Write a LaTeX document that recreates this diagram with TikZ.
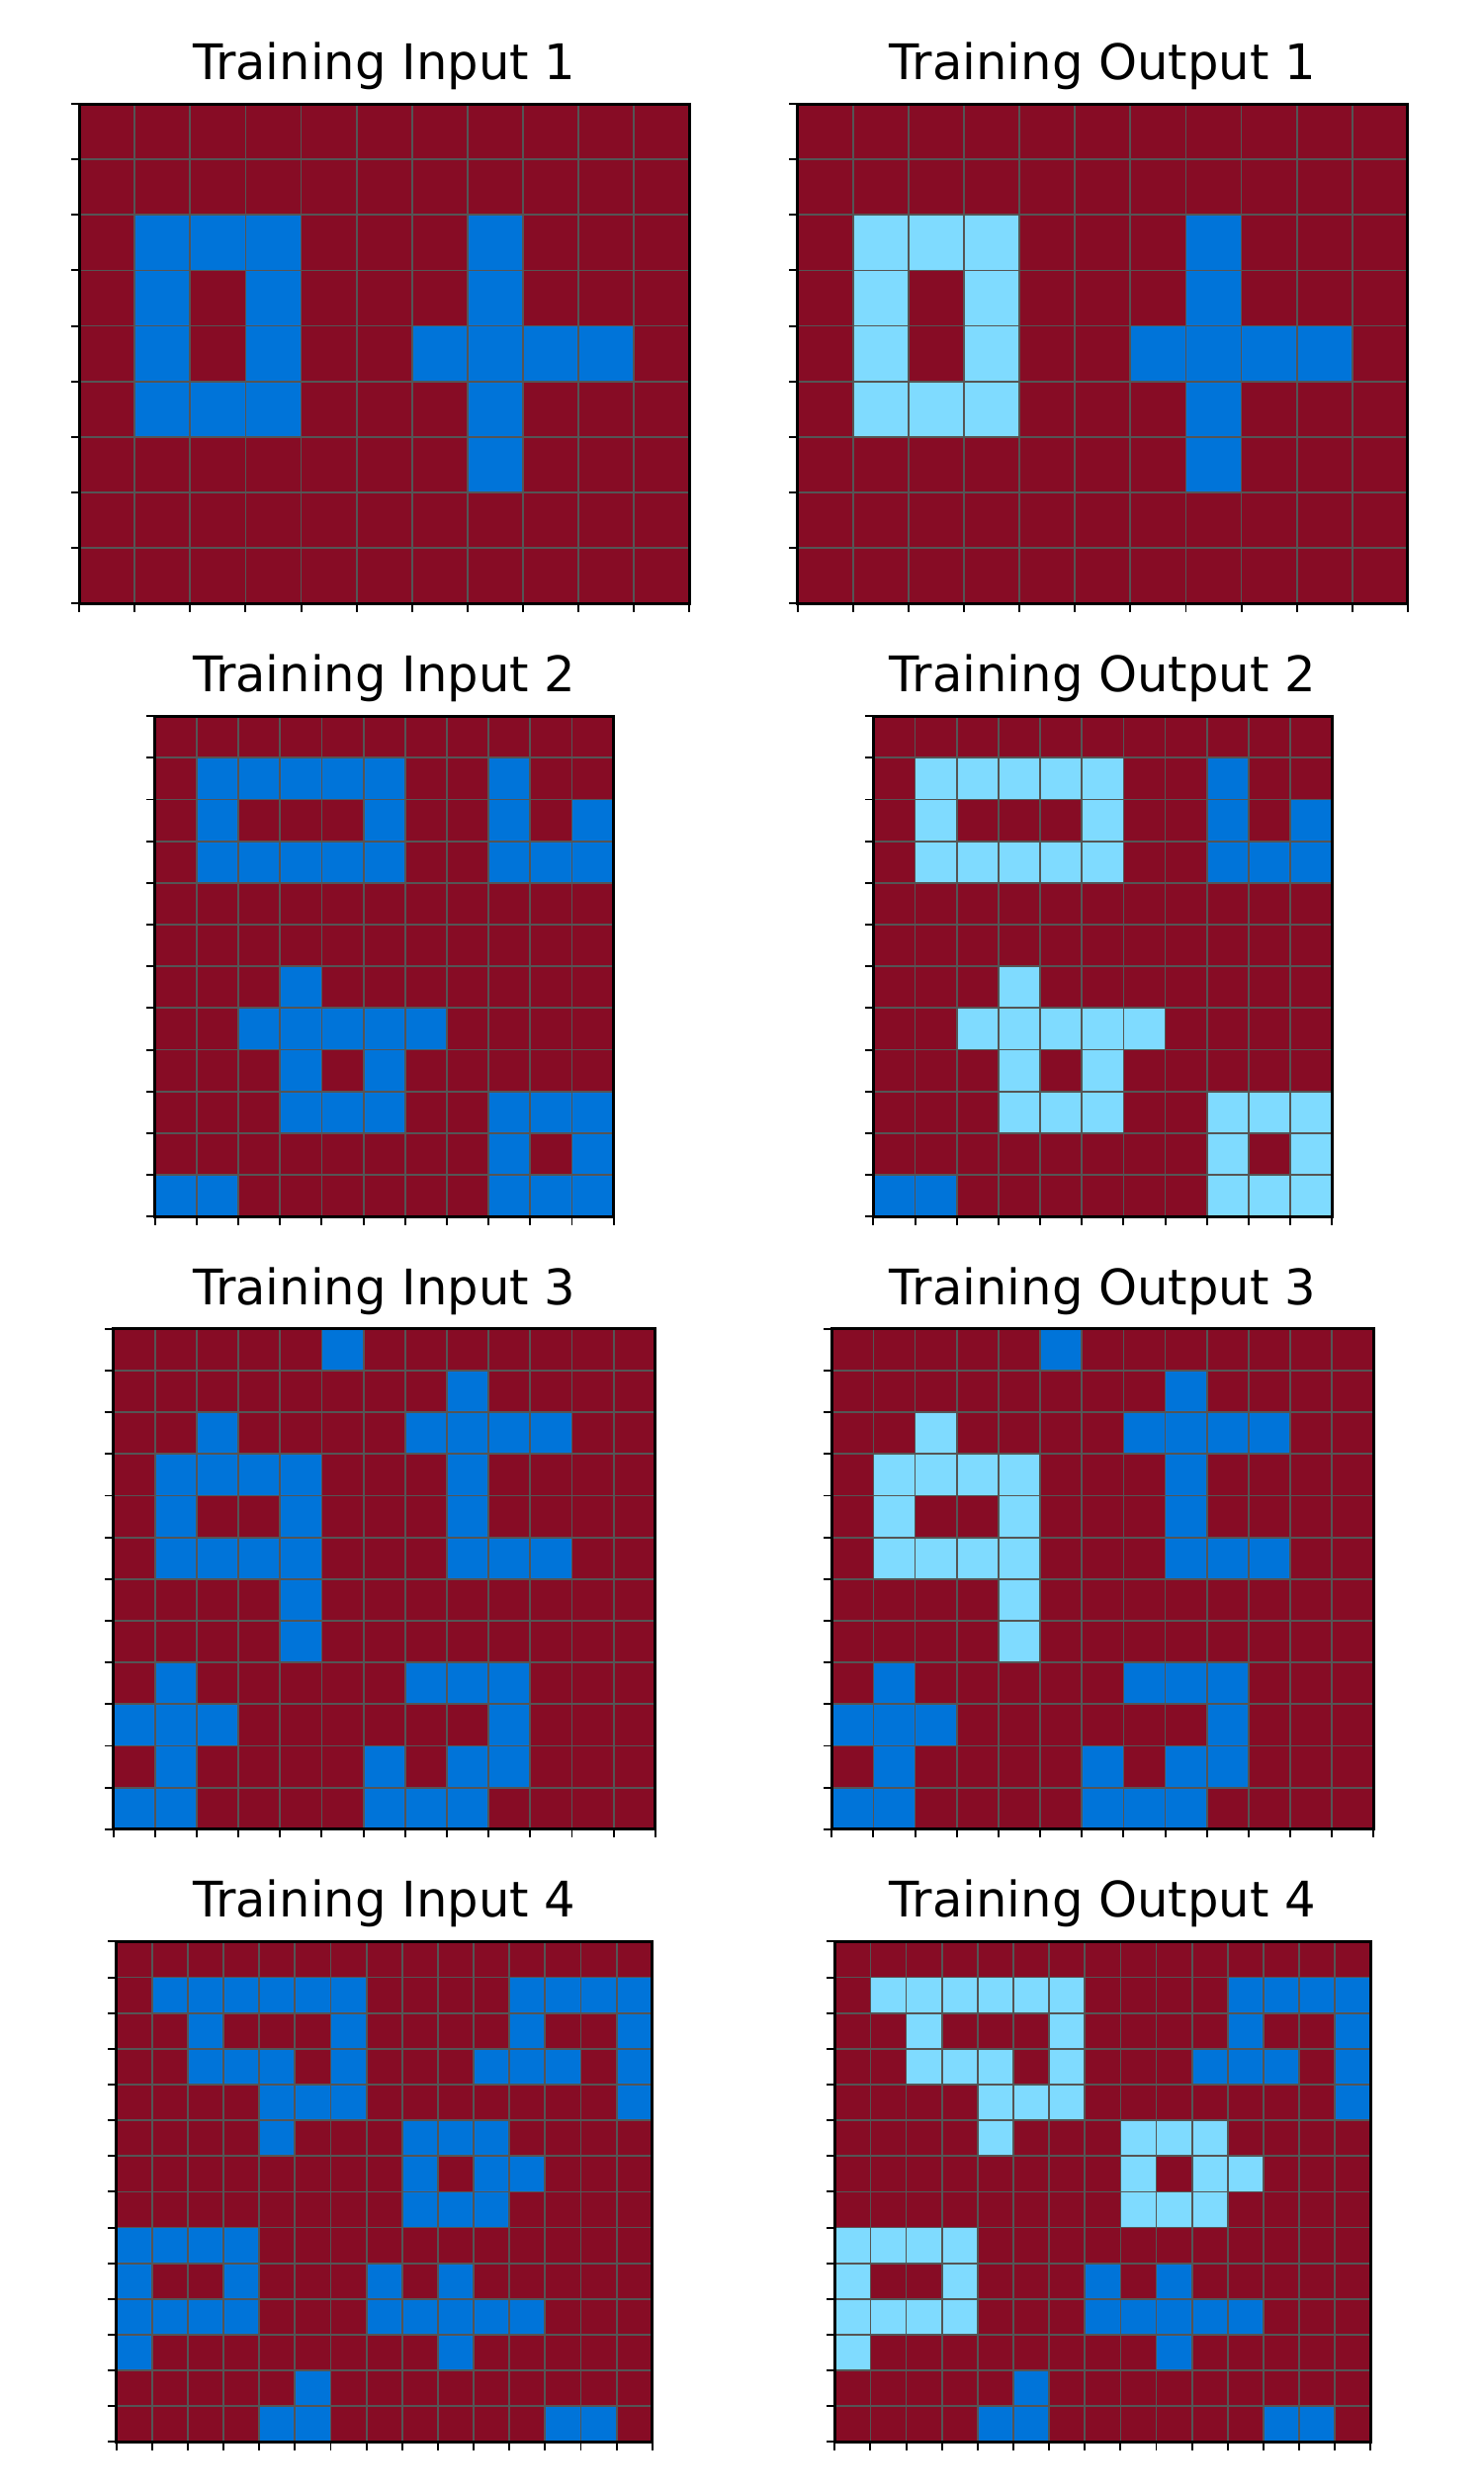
\documentclass[tikz,border=0pt]{standalone}
\usepackage{fontspec}
\setmainfont{DejaVu Sans}

\definecolor{c0}{HTML}{870C25}
\definecolor{c1}{HTML}{0074D9}
\definecolor{c2}{HTML}{7FDBFF}
\definecolor{gridgray}{HTML}{555555}

\tikzset{
	gridline/.style={gridgray, line width=0.5pt},
	spine/.style={black, line width=0.85pt},
	tickmark/.style={black, line width=0.55pt},
	gridtitle/.style={anchor=base, inner sep=0pt, font=\fontsize{14.1}{16}\selectfont}
}

% 0 = maroon, 1 = blue, 2 = light blue
\newcommand{\gridInA}{{0,0,0,0,0,0,0,0,0,0,0},{0,0,0,0,0,0,0,0,0,0,0},{0,1,1,1,0,0,0,1,0,0,0},{0,1,0,1,0,0,0,1,0,0,0},{0,1,0,1,0,0,1,1,1,1,0},{0,1,1,1,0,0,0,1,0,0,0},{0,0,0,0,0,0,0,1,0,0,0},{0,0,0,0,0,0,0,0,0,0,0},{0,0,0,0,0,0,0,0,0,0,0}}
\newcommand{\gridOutA}{{0,0,0,0,0,0,0,0,0,0,0},{0,0,0,0,0,0,0,0,0,0,0},{0,2,2,2,0,0,0,1,0,0,0},{0,2,0,2,0,0,0,1,0,0,0},{0,2,0,2,0,0,1,1,1,1,0},{0,2,2,2,0,0,0,1,0,0,0},{0,0,0,0,0,0,0,1,0,0,0},{0,0,0,0,0,0,0,0,0,0,0},{0,0,0,0,0,0,0,0,0,0,0}}
\newcommand{\gridInB}{{0,0,0,0,0,0,0,0,0,0,0},{0,1,1,1,1,1,0,0,1,0,0},{0,1,0,0,0,1,0,0,1,0,1},{0,1,1,1,1,1,0,0,1,1,1},{0,0,0,0,0,0,0,0,0,0,0},{0,0,0,0,0,0,0,0,0,0,0},{0,0,0,1,0,0,0,0,0,0,0},{0,0,1,1,1,1,1,0,0,0,0},{0,0,0,1,0,1,0,0,0,0,0},{0,0,0,1,1,1,0,0,1,1,1},{0,0,0,0,0,0,0,0,1,0,1},{1,1,0,0,0,0,0,0,1,1,1}}
\newcommand{\gridOutB}{{0,0,0,0,0,0,0,0,0,0,0},{0,2,2,2,2,2,0,0,1,0,0},{0,2,0,0,0,2,0,0,1,0,1},{0,2,2,2,2,2,0,0,1,1,1},{0,0,0,0,0,0,0,0,0,0,0},{0,0,0,0,0,0,0,0,0,0,0},{0,0,0,2,0,0,0,0,0,0,0},{0,0,2,2,2,2,2,0,0,0,0},{0,0,0,2,0,2,0,0,0,0,0},{0,0,0,2,2,2,0,0,2,2,2},{0,0,0,0,0,0,0,0,2,0,2},{1,1,0,0,0,0,0,0,2,2,2}}
\newcommand{\gridInC}{{0,0,0,0,0,1,0,0,0,0,0,0,0},{0,0,0,0,0,0,0,0,1,0,0,0,0},{0,0,1,0,0,0,0,1,1,1,1,0,0},{0,1,1,1,1,0,0,0,1,0,0,0,0},{0,1,0,0,1,0,0,0,1,0,0,0,0},{0,1,1,1,1,0,0,0,1,1,1,0,0},{0,0,0,0,1,0,0,0,0,0,0,0,0},{0,0,0,0,1,0,0,0,0,0,0,0,0},{0,1,0,0,0,0,0,1,1,1,0,0,0},{1,1,1,0,0,0,0,0,0,1,0,0,0},{0,1,0,0,0,0,1,0,1,1,0,0,0},{1,1,0,0,0,0,1,1,1,0,0,0,0}}
\newcommand{\gridOutC}{{0,0,0,0,0,1,0,0,0,0,0,0,0},{0,0,0,0,0,0,0,0,1,0,0,0,0},{0,0,2,0,0,0,0,1,1,1,1,0,0},{0,2,2,2,2,0,0,0,1,0,0,0,0},{0,2,0,0,2,0,0,0,1,0,0,0,0},{0,2,2,2,2,0,0,0,1,1,1,0,0},{0,0,0,0,2,0,0,0,0,0,0,0,0},{0,0,0,0,2,0,0,0,0,0,0,0,0},{0,1,0,0,0,0,0,1,1,1,0,0,0},{1,1,1,0,0,0,0,0,0,1,0,0,0},{0,1,0,0,0,0,1,0,1,1,0,0,0},{1,1,0,0,0,0,1,1,1,0,0,0,0}}
\newcommand{\gridInD}{{0,0,0,0,0,0,0,0,0,0,0,0,0,0,0},{0,1,1,1,1,1,1,0,0,0,0,1,1,1,1},{0,0,1,0,0,0,1,0,0,0,0,1,0,0,1},{0,0,1,1,1,0,1,0,0,0,1,1,1,0,1},{0,0,0,0,1,1,1,0,0,0,0,0,0,0,1},{0,0,0,0,1,0,0,0,1,1,1,0,0,0,0},{0,0,0,0,0,0,0,0,1,0,1,1,0,0,0},{0,0,0,0,0,0,0,0,1,1,1,0,0,0,0},{1,1,1,1,0,0,0,0,0,0,0,0,0,0,0},{1,0,0,1,0,0,0,1,0,1,0,0,0,0,0},{1,1,1,1,0,0,0,1,1,1,1,1,0,0,0},{1,0,0,0,0,0,0,0,0,1,0,0,0,0,0},{0,0,0,0,0,1,0,0,0,0,0,0,0,0,0},{0,0,0,0,1,1,0,0,0,0,0,0,1,1,0}}
\newcommand{\gridOutD}{{0,0,0,0,0,0,0,0,0,0,0,0,0,0,0},{0,2,2,2,2,2,2,0,0,0,0,1,1,1,1},{0,0,2,0,0,0,2,0,0,0,0,1,0,0,1},{0,0,2,2,2,0,2,0,0,0,1,1,1,0,1},{0,0,0,0,2,2,2,0,0,0,0,0,0,0,1},{0,0,0,0,2,0,0,0,2,2,2,0,0,0,0},{0,0,0,0,0,0,0,0,2,0,2,2,0,0,0},{0,0,0,0,0,0,0,0,2,2,2,0,0,0,0},{2,2,2,2,0,0,0,0,0,0,0,0,0,0,0},{2,0,0,2,0,0,0,1,0,1,0,0,0,0,0},{2,2,2,2,0,0,0,1,1,1,1,1,0,0,0},{2,0,0,0,0,0,0,0,0,1,0,0,0,0,0},{0,0,0,0,0,1,0,0,0,0,0,0,0,0,0},{0,0,0,0,1,1,0,0,0,0,0,0,1,1,0}}

% #1 name, #2 centre x, #3 centre y, #4 cell, #5 cols, #6 rows, #7 data, #8 title
\newcommand{\arcgrid}[8]{%
	\pgfmathsetmacro\gx{#2-#5*#4/2}
	\pgfmathsetmacro\gy{#3-#6*#4/2}
	\pgfmathsetmacro\gw{#5*#4}
	\pgfmathsetmacro\gh{#6*#4}
	\foreach \rowdata [count=\r from 0] in #7 {
		\foreach \v [count=\c from 0] in \rowdata {
			\fill[fill=c\v] (\gx+\c*#4, \gy+\r*#4) rectangle ++(#4,#4);
		}
	}
	\foreach \k in {0,...,#5} {
		\draw[gridline] (\gx+\k*#4, \gy) -- ++(0,\gh);
		\draw[tickmark] (\gx+\k*#4, \gy+\gh) -- ++(0,8.5);
	}
	\foreach \k in {0,...,#6} {
		\draw[gridline] (\gx, \gy+\k*#4) -- ++(\gw,0);
		\draw[tickmark] (\gx, \gy+\k*#4) -- ++(-8.5,0);
	}
	\draw[spine] (\gx,\gy) rectangle ++(\gw,\gh);
	\node[gridtitle] (#1) at (#2, \gy-24.5) {#8};
}

\begin{document}
\begin{tikzpicture}[x=0.01cm, y=-0.01cm]
	\fill[white] (0,0) rectangle (1500,2519);
	\useasboundingbox (0,0) rectangle (1500,2519);
	\arcgrid{in1}{388.7}{357.6}{56.1}{11}{9}{\gridInA}{Training Input 1}
	\arcgrid{out1}{1115.3}{357.6}{56.1}{11}{9}{\gridOutA}{Training Output 1}
	\arcgrid{in2}{388.7}{977.2}{42.17}{11}{12}{\gridInB}{Training Input 2}
	\arcgrid{out2}{1115.3}{977.2}{42.17}{11}{12}{\gridOutB}{Training Output 2}
	\arcgrid{in3}{388.7}{1596.8}{42.17}{13}{12}{\gridInC}{Training Input 3}
	\arcgrid{out3}{1115.3}{1596.8}{42.17}{13}{12}{\gridOutC}{Training Output 3}
	\arcgrid{in4}{388.7}{2216.4}{36.14}{15}{14}{\gridInD}{Training Input 4}
	\arcgrid{out4}{1115.3}{2216.4}{36.14}{15}{14}{\gridOutD}{Training Output 4}
\end{tikzpicture}
\end{document}
